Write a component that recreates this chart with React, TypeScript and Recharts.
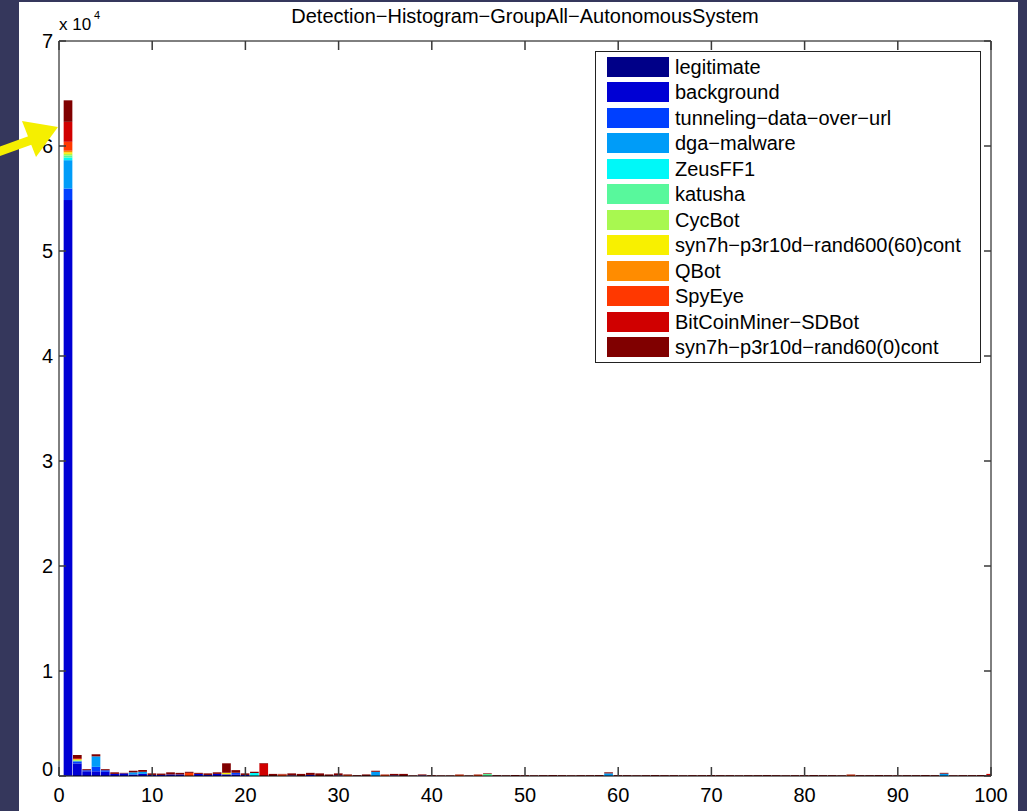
import React from 'react';
import { BarChart, Bar, XAxis, YAxis, Legend } from 'recharts';

const BINS = [
  1, 2, 3, 4, 5, 6, 7, 8, 9, 10,
  11, 12, 13, 14, 15, 16, 17, 18, 19, 20,
  21, 22, 23, 24, 25, 26, 27, 28, 29, 30,
  31, 32, 33, 34, 35, 36, 37, 38, 39, 40,
  41, 42, 43, 44, 45, 46, 47, 48, 49, 50,
  51, 52, 53, 54, 55, 56, 57, 58, 59, 60,
  61, 62, 63, 64, 65, 66, 67, 68, 69, 70,
  71, 72, 73, 74, 75, 76, 77, 78, 79, 80,
  81, 82, 83, 84, 85, 86, 87, 88, 89, 90,
  91, 92, 93, 94, 95, 96, 97, 98, 99, 100,
];

const SERIES_NAMES = [
  'legitimate',
  'background',
  'tunneling\u2212data\u2212over\u2212url',
  'dga\u2212malware',
  'ZeusFF1',
  'katusha',
  'CycBot',
  'syn7h\u2212p3r10d\u2212rand600(60)cont',
  'QBot',
  'SpyEye',
  'BitCoinMiner\u2212SDBot',
  'syn7h\u2212p3r10d\u2212rand60(0)cont',
];

const SERIES_COLORS = [
  '#000088', '#0000d4', '#0040ff', '#009cf8', '#00f8f8', '#58f89c',
  '#a8f850', '#f8f000', '#ff8c00', '#ff3800', '#d00000', '#800000',
];

const LEGITIMATE = [
  50, 0, 0, 0, 0, 0, 0, 0, 0, 0,
  0, 0, 0, 0, 0, 0, 0, 0, 0, 0,
  0, 0, 0, 0, 0, 0, 0, 0, 0, 0,
  0, 0, 0, 0, 0, 0, 0, 0, 0, 0,
  0, 0, 0, 0, 0, 0, 0, 0, 0, 0,
  0, 0, 0, 0, 0, 0, 0, 0, 0, 0,
  0, 0, 0, 0, 0, 0, 0, 0, 0, 0,
  0, 0, 0, 0, 0, 0, 0, 0, 0, 0,
  0, 0, 0, 0, 0, 0, 0, 0, 0, 0,
  0, 0, 0, 0, 0, 0, 0, 0, 0, 0,
];

const BACKGROUND = [
  54800, 1200, 450, 450, 400, 200, 250, 150, 200, 100,
  100, 150, 150, 0, 200, 100, 200, 160, 160, 100,
  0, 0, 0, 0, 50, 0, 100, 0, 0, 50,
  0, 0, 0, 0, 0, 50, 0, 0, 50, 0,
  0, 0, 0, 0, 0, 0, 0, 0, 0, 0,
  0, 0, 0, 0, 0, 0, 0, 0, 0, 0,
  0, 0, 0, 0, 0, 0, 0, 0, 0, 0,
  0, 0, 0, 0, 0, 0, 0, 0, 0, 0,
  0, 0, 0, 0, 0, 0, 0, 0, 0, 0,
  0, 0, 0, 0, 0, 0, 0, 0, 0, 0,
];

const TUNNELING = [
  1100, 200, 100, 420, 150, 0, 0, 0, 0, 0,
  0, 0, 0, 0, 0, 0, 0, 0, 150, 0,
  0, 0, 0, 0, 0, 0, 0, 0, 0, 0,
  0, 0, 0, 0, 0, 0, 0, 0, 0, 0,
  0, 0, 0, 0, 0, 0, 0, 0, 0, 0,
  0, 0, 0, 0, 0, 0, 0, 0, 0, 0,
  0, 0, 0, 0, 0, 0, 0, 0, 0, 0,
  0, 0, 0, 0, 0, 0, 0, 0, 0, 0,
  0, 0, 0, 0, 0, 0, 0, 0, 0, 0,
  0, 0, 0, 0, 0, 0, 0, 0, 0, 0,
];

const DGA = [
  2700, 0, 0, 1000, 0, 0, 0, 200, 200, 0,
  0, 0, 0, 0, 0, 0, 0, 0, 0, 0,
  0, 0, 0, 0, 0, 0, 0, 0, 0, 0,
  0, 0, 0, 400, 0, 0, 0, 0, 0, 0,
  0, 0, 0, 0, 0, 0, 0, 0, 0, 0,
  0, 0, 0, 0, 0, 0, 0, 0, 250, 0,
  0, 0, 0, 0, 0, 0, 0, 0, 0, 0,
  0, 0, 0, 0, 0, 0, 0, 0, 0, 0,
  0, 0, 0, 0, 0, 0, 0, 0, 0, 0,
  0, 0, 0, 0, 220, 0, 0, 0, 0, 0,
];

const ZEUS = [
  250, 0, 0, 0, 0, 0, 0, 0, 0, 0,
  0, 0, 0, 0, 0, 0, 0, 0, 0, 0,
  280, 0, 0, 0, 0, 0, 0, 0, 0, 0,
  0, 0, 0, 0, 0, 0, 0, 0, 0, 0,
  0, 0, 0, 0, 0, 0, 0, 0, 0, 0,
  0, 0, 0, 0, 0, 0, 0, 0, 0, 0,
  0, 0, 0, 0, 0, 0, 0, 0, 0, 0,
  0, 0, 0, 0, 0, 0, 0, 0, 0, 0,
  0, 0, 0, 0, 0, 0, 0, 0, 0, 0,
  0, 0, 0, 0, 0, 0, 0, 0, 0, 0,
];

const KATUSHA = [
  200, 50, 0, 0, 0, 0, 0, 0, 0, 0,
  0, 0, 0, 0, 0, 0, 0, 0, 0, 0,
  0, 0, 0, 0, 0, 0, 0, 0, 0, 0,
  0, 0, 0, 0, 0, 0, 0, 0, 0, 0,
  0, 0, 0, 0, 0, 190, 0, 0, 0, 0,
  0, 0, 0, 0, 0, 0, 0, 0, 0, 0,
  0, 0, 0, 0, 0, 0, 0, 0, 0, 0,
  0, 0, 0, 0, 0, 0, 0, 0, 0, 0,
  0, 0, 0, 0, 0, 0, 0, 0, 0, 0,
  0, 0, 0, 0, 0, 0, 0, 0, 0, 0,
];

const CYCBOT = [
  150, 80, 0, 0, 0, 0, 0, 0, 0, 0,
  0, 0, 0, 0, 0, 0, 0, 0, 0, 0,
  0, 0, 0, 0, 0, 0, 0, 0, 0, 0,
  0, 0, 0, 0, 0, 0, 0, 0, 0, 0,
  0, 0, 0, 0, 0, 0, 0, 0, 0, 0,
  0, 0, 0, 0, 0, 0, 0, 0, 0, 0,
  0, 0, 0, 0, 0, 0, 0, 0, 0, 0,
  0, 0, 0, 0, 0, 0, 0, 0, 0, 0,
  0, 0, 0, 0, 0, 0, 0, 0, 0, 0,
  0, 0, 0, 0, 0, 0, 0, 0, 0, 0,
];

const SYN600 = [
  150, 70, 0, 0, 0, 0, 0, 0, 0, 0,
  0, 0, 0, 0, 0, 0, 0, 150, 0, 0,
  0, 0, 0, 0, 0, 0, 0, 0, 0, 0,
  0, 0, 0, 0, 0, 0, 0, 0, 0, 0,
  0, 0, 0, 0, 0, 0, 0, 0, 0, 0,
  0, 0, 0, 0, 0, 0, 0, 0, 0, 0,
  0, 0, 0, 0, 0, 0, 0, 0, 0, 0,
  0, 0, 0, 0, 0, 0, 0, 0, 0, 0,
  0, 0, 0, 0, 0, 0, 0, 0, 0, 0,
  0, 0, 0, 0, 0, 0, 0, 0, 0, 0,
];

const QBOT = [
  150, 0, 0, 0, 0, 0, 0, 0, 0, 0,
  0, 0, 0, 0, 0, 0, 0, 0, 0, 0,
  0, 0, 0, 0, 0, 0, 0, 0, 0, 0,
  0, 0, 0, 0, 0, 0, 0, 0, 0, 0,
  0, 0, 0, 0, 0, 0, 0, 0, 0, 0,
  0, 0, 0, 0, 0, 0, 0, 0, 0, 0,
  0, 0, 0, 0, 0, 0, 0, 0, 0, 0,
  0, 0, 0, 0, 0, 0, 0, 0, 0, 0,
  0, 0, 0, 0, 0, 0, 0, 0, 0, 0,
  0, 0, 0, 0, 0, 0, 0, 0, 0, 0,
];

const SPYEYE = [
  850, 0, 0, 0, 0, 0, 0, 0, 0, 0,
  0, 0, 0, 300, 0, 0, 0, 0, 0, 0,
  0, 0, 0, 150, 0, 0, 0, 0, 0, 0,
  100, 0, 0, 0, 120, 0, 0, 0, 0, 0,
  0, 0, 120, 0, 120, 0, 0, 0, 0, 0,
  0, 0, 0, 0, 0, 0, 0, 0, 0, 0,
  0, 0, 0, 0, 0, 0, 0, 0, 0, 0,
  0, 0, 0, 0, 0, 0, 0, 0, 0, 0,
  0, 0, 0, 0, 120, 0, 0, 0, 0, 0,
  0, 0, 0, 0, 0, 0, 0, 0, 0, 0,
];

const BITCOIN = [
  1900, 100, 0, 0, 0, 0, 0, 0, 0, 0,
  0, 0, 0, 0, 0, 0, 0, 0, 0, 0,
  0, 1180, 0, 0, 0, 0, 0, 0, 0, 0,
  0, 0, 0, 0, 0, 0, 0, 0, 0, 0,
  0, 0, 0, 0, 0, 0, 0, 0, 0, 0,
  0, 0, 0, 0, 0, 0, 0, 0, 0, 0,
  0, 0, 0, 0, 0, 0, 0, 0, 0, 0,
  0, 0, 0, 0, 0, 0, 0, 0, 0, 0,
  0, 0, 0, 0, 0, 0, 0, 0, 0, 0,
  0, 0, 0, 0, 0, 0, 0, 0, 0, 200,
];

const SYN60 = [
  2050, 300, 100, 200, 100, 150, 50, 150, 170, 150,
  130, 200, 150, 100, 100, 150, 150, 900, 250, 150,
  120, 60, 200, 50, 200, 200, 200, 250, 150, 200,
  50, 80, 150, 100, 30, 150, 200, 60, 100, 80,
  60, 60, 30, 60, 30, 60, 80, 70, 90, 80,
  70, 80, 90, 80, 70, 80, 80, 90, 100, 80,
  80, 70, 80, 90, 80, 80, 70, 80, 80, 90,
  80, 80, 70, 80, 80, 90, 80, 70, 80, 80,
  90, 80, 80, 70, 30, 80, 80, 90, 80, 70,
  80, 80, 90, 80, 80, 70, 80, 80, 90, 0,
];

const SERIES_VALUES = [
  LEGITIMATE, BACKGROUND, TUNNELING, DGA, ZEUS, KATUSHA,
  CYCBOT, SYN600, QBOT, SPYEYE, BITCOIN, SYN60,
];

const X_TICKS = [0, 10, 20, 30, 40, 50, 60, 70, 80, 90, 100];
const Y_TICKS = [0, 10000, 20000, 30000, 40000, 50000, 60000, 70000];
const Y_TICK_LABELS = ['0', '1', '2', '3', '4', '5', '6', '7'];

const TITLE = 'Detection\u2212Histogram\u2212GroupAll\u2212AutonomousSystem';

const FONT = '"Liberation Sans", Arial, Helvetica, sans-serif';
const TICK_FILL = '#3a3a3a';
const AXIS_LINE = { stroke: '#000', strokeWidth: 1 };

const data = BINS.map((bin, i) => {
  const row: Record<string, number> = { bin };
  SERIES_VALUES.forEach((arr, s) => {
    row['s' + s] = arr[i];
  });
  return row;
});

// Each tick component receives the axis-line position (tickSize 0, tickMargin 0)
const BottomTick = (props: any) => {
  const x = Number(props.x);
  const y = Number(props.y);
  return (
    <g>
      <rect x={x - 0.75} y={y - 9} width={1.5} height={9} fill={TICK_FILL} />
      <text x={x} y={y + 26} textAnchor="middle" fontSize={20} fontFamily={FONT} fill="#000">
        {props.payload.value}
      </text>
    </g>
  );
};

const TopTick = (props: any) => {
  const x = Number(props.x);
  const y = Number(props.y);
  return <rect x={x - 0.75} y={y} width={1.5} height={9} fill={TICK_FILL} />;
};

const LeftTick = (props: any) => {
  const x = Number(props.x);
  const y = Number(props.y);
  const label = Y_TICK_LABELS[props.index] ?? '';
  const dy = props.payload.value === 0 ? 0 : 7;
  return (
    <g>
      <rect x={x} y={y - 0.75} width={7} height={1.5} fill={TICK_FILL} />
      <text x={x - 6} y={y + dy} textAnchor="end" fontSize={20} fontFamily={FONT} fill="#000">
        {label}
      </text>
    </g>
  );
};

const RightTick = (props: any) => {
  const x = Number(props.x);
  const y = Number(props.y);
  return <rect x={x - 7} y={y - 0.75} width={7} height={1.5} fill={TICK_FILL} />;
};

const LegendBox = () => (
  <div
    style={{
      width: 386,
      height: 312,
      boxSizing: 'border-box',
      border: '1px solid #222',
      background: '#fff',
      position: 'relative',
      fontFamily: FONT,
    }}
  >
    {SERIES_NAMES.map((name, i) => (
      <div
        key={name}
        style={{
          position: 'absolute',
          left: 11,
          top: 5 + i * 25.47,
          height: 20,
          display: 'flex',
          alignItems: 'center',
          whiteSpace: 'nowrap',
        }}
      >
        <div style={{ width: 62, height: 20, background: SERIES_COLORS[i] }} />
        <span style={{ marginLeft: 6, fontSize: 20, color: '#000', lineHeight: '20px' }}>{name}</span>
      </div>
    ))}
  </div>
);

export default function App() {
  return (
    <div
      style={{
        position: 'absolute',
        left: 0,
        top: 0,
        width: 1027,
        height: 811,
        background: '#35375c',
        overflow: 'hidden',
      }}
    >
      <div
        style={{ position: 'absolute', left: 19, top: 2, width: 999, height: 809, background: '#fff' }}
      />
      <div style={{ position: 'absolute', left: 0, top: 0 }}>
        <BarChart
          width={1027}
          height={811}
          data={data}
          margin={{ top: 40, right: 35, bottom: 0, left: 19 }}
          barSize={8.7}
          barGap={0}
        >
          {SERIES_NAMES.map((name, i) => (
            <Bar
              key={'s' + i}
              dataKey={'s' + i}
              name={name}
              stackId="a"
              fill={SERIES_COLORS[i]}
              isAnimationActive={false}
            />
          ))}
          <XAxis
            dataKey="bin"
            type="number"
            domain={[0, 100]}
            ticks={X_TICKS}
            interval={0}
            height={35}
            tickSize={0}
            tickMargin={0}
            tickLine={false}
            axisLine={AXIS_LINE}
            tick={<BottomTick />}
            allowDataOverflow
          />
          <XAxis
            xAxisId="top"
            orientation="top"
            dataKey="bin"
            type="number"
            domain={[0, 100]}
            ticks={X_TICKS}
            interval={0}
            height={1}
            tickSize={0}
            tickMargin={0}
            tickLine={false}
            axisLine={AXIS_LINE}
            tick={<TopTick />}
            allowDataOverflow
          />
          <YAxis
            type="number"
            domain={[0, 70000]}
            ticks={Y_TICKS}
            interval={0}
            width={40}
            tickSize={0}
            tickMargin={0}
            tickLine={false}
            axisLine={AXIS_LINE}
            tick={<LeftTick />}
            allowDataOverflow
          />
          <YAxis
            yAxisId="right"
            orientation="right"
            type="number"
            domain={[0, 70000]}
            ticks={Y_TICKS}
            interval={0}
            width={1}
            tickSize={0}
            tickMargin={0}
            tickLine={false}
            axisLine={AXIS_LINE}
            tick={<RightTick />}
            allowDataOverflow
          />
          <Legend
            layout="vertical"
            align="center"
            verticalAlign="middle"
            content={<LegendBox />}
            wrapperStyle={{ left: 595, top: 51, width: 386, height: 312 }}
          />
          <text x={525} y={23} textAnchor="middle" fontSize={20} fontFamily={FONT} fill="#000">
            {TITLE}
          </text>
          <text x={59} y={30} fontSize={17} fontFamily={FONT} fill="#000">
            x 10
          </text>
          <text x={94} y={19} fontSize={11} fontFamily={FONT} fill="#000">
            4
          </text>
        </BarChart>
      </div>
      <svg
        width={1027}
        height={811}
        style={{ position: 'absolute', left: 0, top: 0, pointerEvents: 'none' }}
      >
        <line x1={-2} y1={152} x2={34} y2={139} stroke="#f5ef00" strokeWidth={9} />
        <polygon points="58,127 22,121 36,157" fill="#f5ef00" />
      </svg>
    </div>
  );
}
